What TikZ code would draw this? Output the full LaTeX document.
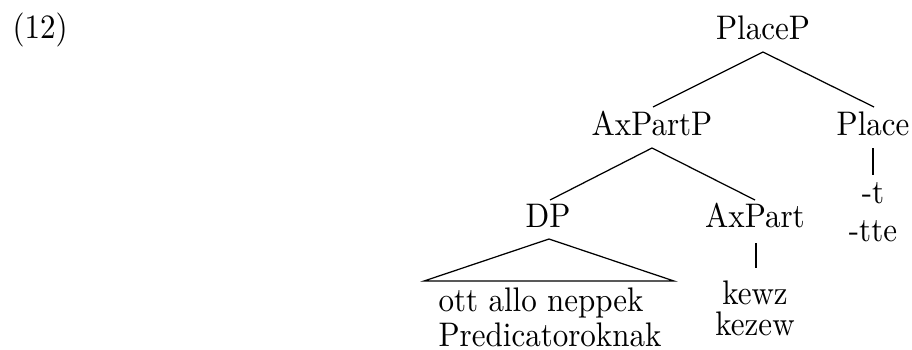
\documentclass[tikz,border=0pt]{standalone}
\usetikzlibrary{calc}
\newcommand{\vstretch}[1]{\scalebox{1}[1.1]{#1}}
\begin{document}
\begin{tikzpicture}[x=0.3226pt,y=-0.3226pt,
  lbl/.style={anchor=base,inner sep=0pt},
  lblw/.style={anchor=base west,inner sep=0pt},
  branch/.style={line width=0.4pt}]
\useasboundingbox (0,0) rectangle (912,349);
\node[lblw] (ex) at (12,38) {\vstretch{(12)}};
\node[lbl] (placep) at (763,39) {\vstretch{PlaceP}};
\node[lbl] (axpartp) at (652,135) {\vstretch{AxPartP}};
\node[lbl] (place) at (873,135) {\vstretch{Place}};
\node[lbl] (dp) at (548,227) {\vstretch{DP}};
\node[lbl] (axpart) at (755,227) {\vstretch{AxPart}};
\node[lbl] (t1) at (873,203) {\vstretch{-t}};
\node[lbl] (t2) at (873,241) {\vstretch{-tte}};
\node[lbl] (kewz) at (755,304) {\vstretch{kewz}};
\node[lbl] (kezew) at (755,335) {\vstretch{kezew}};
\node[lblw] (ott) at (438,311) {\vstretch{ott allo neppek}};
\node[lblw] (pred) at (438,346) {\vstretch{Predicatoroknak}};
\draw[branch] ($(placep.base)+(0,13)$) -- ($(axpartp.base)+(1,-28)$);
\draw[branch] ($(placep.base)+(0,13)$) -- ($(place.base)+(1,-28)$);
\draw[branch] ($(place.base)+(0,13)$) -- ($(t1.base)+(0,-28)$);
\draw[branch] ($(axpartp.base)+(0,13)$) -- ($(dp.base)+(2,-27)$);
\draw[branch] ($(axpartp.base)+(0,13)$) -- ($(axpart.base)+(0,-27)$);
\draw[branch] ($(axpart.base)+(1,16)$) -- ($(kewz.base)+(1,-36)$);
\draw[branch] ($(dp.base)+(1,12)$) -- ($(dp.base)+(-124,54)$) -- ($(dp.base)+(126,54)$) -- cycle;
\end{tikzpicture}
\end{document}
